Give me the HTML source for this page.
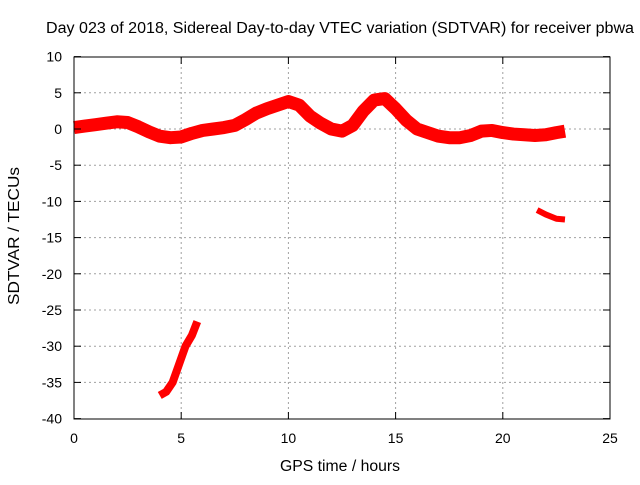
<!DOCTYPE html>
<html><head><meta charset="utf-8"><style>
body{margin:0;background:#fff}
svg{font-family:"Liberation Sans",sans-serif;font-size:14px}
</style></head><body>
<svg width="640" height="480">
<g id="grid"></g>
<g id="series"></g>
<rect x="74" y="57" width="536" height="362" fill="none" stroke="#000"/>
<g id="ticks"></g>
<text x="340" y="33" text-anchor="middle" font-size="15.5" textLength="588" lengthAdjust="spacingAndGlyphs">Day 023 of 2018, Sidereal Day-to-day VTEC variation (SDTVAR) for receiver pbwa</text>
<text x="340" y="471" text-anchor="middle" font-size="15.5" textLength="120" lengthAdjust="spacingAndGlyphs">GPS time / hours</text>
<text x="19" y="236" text-anchor="middle" font-size="15.5" textLength="138" lengthAdjust="spacingAndGlyphs" transform="rotate(-90 19 236)">SDTVAR / TECUs</text>
</svg>
<script>
const xTicks=[0,5,10,15,20,25];
const yTicks=[10,5,0,-5,-10,-15,-20,-25,-30,-35,-40];
const mainHours=[0,0.5,1,1.5,2,2.5,3,3.5,4,4.5,5,5.5,6,6.5,7,7.5,8,8.5,9,9.5,10,10.5,11,11.5,12,12.5,13,13.5,14,14.5,15,15.5,16,16.5,17,17.5,18,18.5,19,19.5,20,20.5,21,21.5,22,22.5,22.9];
const mainValues=[0.2,0.4,0.6,0.8,1.0,0.9,0.3,-0.4,-1.0,-1.2,-1.1,-0.6,-0.2,0,0.2,0.5,1.3,2.2,2.8,3.3,3.8,3.3,1.8,0.8,0.0,-0.3,0.5,2.5,4.0,4.2,2.8,1.2,0.0,-0.5,-1.0,-1.2,-1.2,-0.9,-0.3,-0.2,-0.5,-0.7,-0.8,-0.9,-0.8,-0.5,-0.3];
const lowHours=[4.0,4.3,4.6,4.9,5.2,5.5,5.75];
const lowValues=[-36.8,-36.3,-35,-32.5,-30,-28.5,-26.6];
const lateHours=[21.6,22,22.5,22.9];
const lateValues=[-11.2,-11.8,-12.4,-12.5];
const X=h=>74+h*536/25, Y=v=>129-v*7.24;
const NS="http://www.w3.org/2000/svg";
function mk(t,a,p){const e=document.createElementNS(NS,t);for(const k in a)e.setAttribute(k,a[k]);p.appendChild(e);return e;}
const grid=document.getElementById('grid'),ticks=document.getElementById('ticks'),series=document.getElementById('series');
xTicks.forEach(t=>{const x=X(t);
 if(t>0&&t<25){const l=mk('line',{x1:x,x2:x,y1:57,y2:419,stroke:'#a0a0a0','stroke-dasharray':'2,3'},grid);
 }
 mk('line',{x1:x,x2:x,y1:419,y2:412,stroke:'#000'},ticks);mk('line',{x1:x,x2:x,y1:57,y2:64,stroke:'#000'},ticks);
 const tx=mk('text',{x:x,y:443,'text-anchor':'middle'},ticks);tx.textContent=t;
 });
yTicks.forEach(t=>{const y=Y(t);
 if(t<10&&t>-40){const l=mk('line',{x1:74,x2:610,y1:y,y2:y,stroke:'#a0a0a0','stroke-dasharray':'2,3'},grid);
 }
 mk('line',{x1:74,x2:81,y1:y,y2:y,stroke:'#000'},ticks);mk('line',{x1:610,x2:603,y1:y,y2:y,stroke:'#000'},ticks);
 const tx=mk('text',{x:62,y:y+5,'text-anchor':'end'},ticks);tx.textContent=t;
 });
function line(hs,vs,w,name){const p=mk('polyline',{points:hs.map((h,i)=>X(h)+','+Y(vs[i])).join(' '),fill:'none',stroke:'#f00','stroke-width':w,'stroke-linejoin':'round'},series);
 }
line(mainHours,mainValues,13,'main-series');
line(lowHours,lowValues,8,'low-segment');
line(lateHours,lateValues,6,'late-segment');
</script>
</body></html>
